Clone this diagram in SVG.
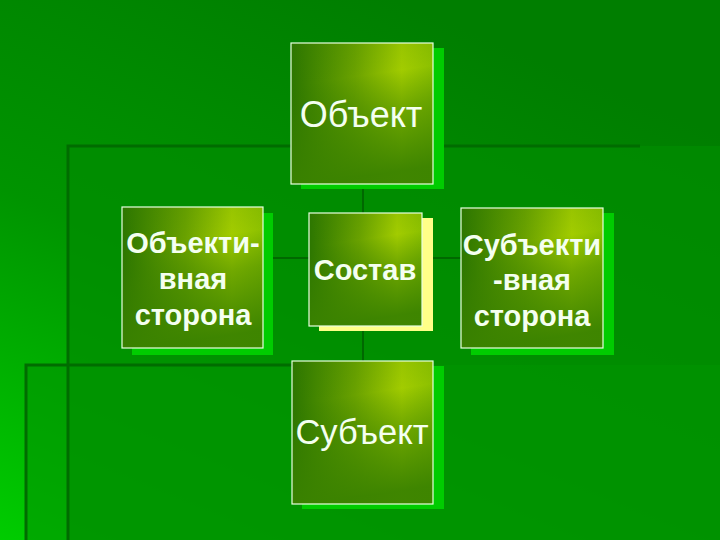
<svg xmlns="http://www.w3.org/2000/svg" width="720" height="540" viewBox="0 0 720 540">
<defs>
<linearGradient id="bg" x1="0" y1="1" x2="0.55" y2="0">
<stop offset="0" stop-color="#00cc00"/>
<stop offset="0.5" stop-color="#009400"/>
<stop offset="1" stop-color="#007e00"/>
</linearGradient>
<linearGradient id="nodeH" x1="0" y1="0" x2="1" y2="0">
<stop offset="0" stop-color="#2c7600"/>
<stop offset="0.45" stop-color="#6aa200"/>
<stop offset="0.78" stop-color="#a2cc00"/>
<stop offset="1" stop-color="#8cc000"/>
</linearGradient>
<linearGradient id="nodeV" x1="0" y1="0" x2="0.15" y2="1">
<stop offset="0" stop-color="#2f7800" stop-opacity="0.15"/>
<stop offset="0.3" stop-color="#2f7800" stop-opacity="0"/>
<stop offset="0.55" stop-color="#387f00" stop-opacity="0.45"/>
<stop offset="1" stop-color="#3a8200" stop-opacity="0.95"/>
</linearGradient>
<style>
.box{fill:url(#nodeH)}
.ov{fill:url(#nodeV);stroke:#e8ffe0;stroke-width:1.2}
.sh{fill:#00cc00}
.shy{fill:#ffff88}
.t{fill:#f4fff0;font-family:"Liberation Sans",Arial,sans-serif;text-anchor:middle}
.b{font-weight:bold;font-size:29px}
.r{font-size:36px}
.tpl{stroke:#006c00;stroke-width:3;fill:none}
.con{stroke:#006800;stroke-width:2;fill:none}
</style>
</defs>
<rect width="720" height="540" fill="url(#bg)"/>
<rect x="68" y="146" width="652" height="394" fill="#008c00" opacity="0.75"/>
<rect x="26" y="365" width="694" height="175" fill="#009400" opacity="0.6"/>
<path class="tpl" d="M68 540 V146 H640"/>
<path class="tpl" d="M26 540 V365 H292" stroke-width="2.5"/>
<g id="connectors">
<line class="con" x1="363" y1="189" x2="363" y2="213"/>
<line class="con" x1="363" y1="331" x2="363" y2="361"/>
<line class="con" x1="273" y1="258" x2="309" y2="258"/>
<line class="con" x1="433" y1="258" x2="461" y2="258"/>
</g>
<g id="obekt">
<rect class="sh" x="301" y="48" width="143" height="141"/>
<rect class="box" x="291" y="43" width="142" height="141"/>
<rect class="ov" x="291" y="43" width="142" height="141"/>
<text class="t r" x="361" y="127">Объект</text>
</g>
<g id="obektivnaya">
<rect class="sh" x="132" y="213" width="141" height="142"/>
<rect class="box" x="122" y="207" width="141" height="141"/>
<rect class="ov" x="122" y="207" width="141" height="141"/>
<text class="t b" x="193" y="253">Объекти-</text>
<text class="t b" x="193" y="289">вная</text>
<text class="t b" x="193" y="325">сторона</text>
</g>
<g id="sostav">
<rect class="shy" x="319" y="218" width="114" height="113"/>
<rect class="box" x="309" y="213" width="113" height="113"/>
<rect class="ov" x="309" y="213" width="113" height="113"/>
<text class="t b" x="365" y="280">Состав</text>
</g>
<g id="subektivnaya">
<rect class="sh" x="471" y="213" width="143" height="142"/>
<rect class="box" x="461" y="208" width="142" height="140"/>
<rect class="ov" x="461" y="208" width="142" height="140"/>
<text class="t b" x="532" y="255">Субъекти</text>
<text class="t b" x="532" y="290">-вная</text>
<text class="t b" x="532" y="326">сторона</text>
</g>
<g id="subekt">
<rect class="sh" x="302" y="366" width="142" height="143"/>
<rect class="box" x="292" y="361" width="141" height="143"/>
<rect class="ov" x="292" y="361" width="141" height="143"/>
<text class="t r" x="362" y="444" style="font-size:34.5px">Субъект</text>
</g>
</svg>
